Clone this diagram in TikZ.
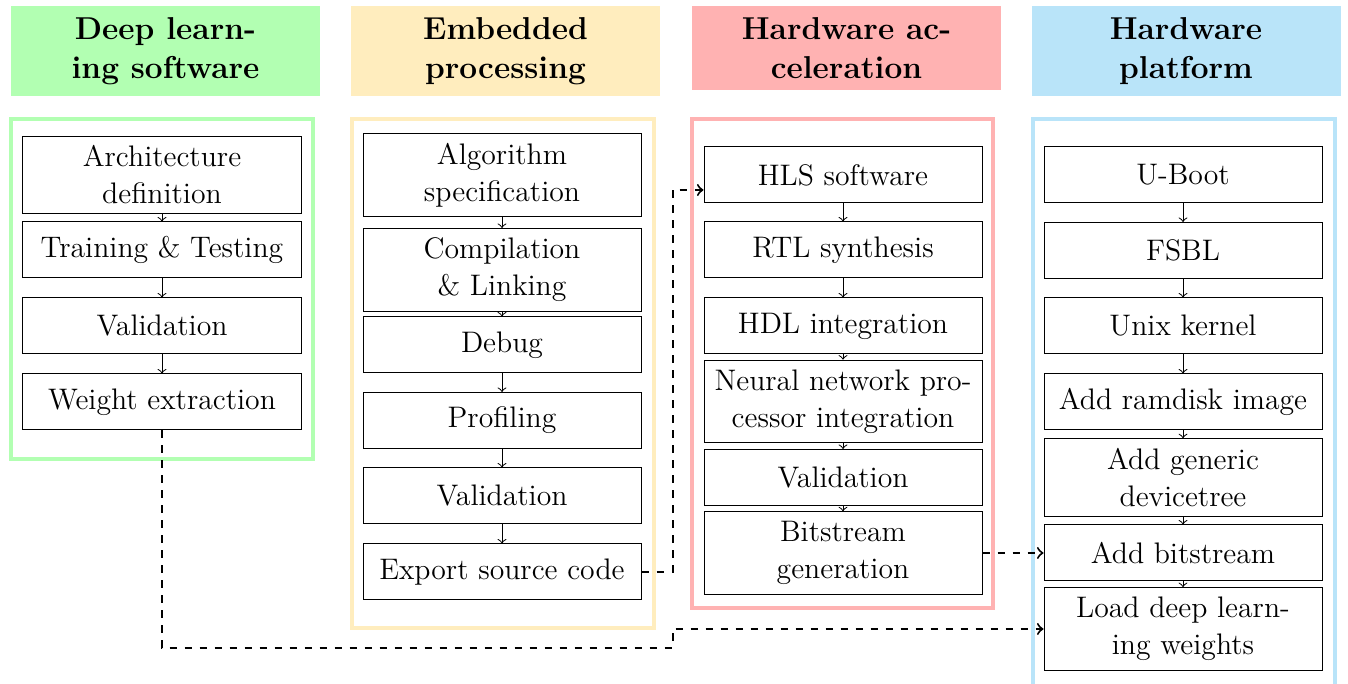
\documentclass[tikz,border=0pt]{standalone}
\usetikzlibrary{calc}

\definecolor{dlgreen}{rgb}{0.70,1.00,0.70}
\definecolor{emyellow}{RGB}{255,237,190}
\definecolor{hwred}{rgb}{1.00,0.70,0.70}
\definecolor{hwblue}{RGB}{185,228,249}

\newcommand\boxfont{\fontsize{11.88}{14.8}\selectfont}
\newcommand\headfont{\fontsize{12.66}{15.6}\selectfont\bfseries}

\tikzset{
  stagebox/.style={draw, line width=0.4pt, minimum width=111.2pt, minimum height=22.4pt,
    inner xsep=2pt, inner ysep=3.8pt, align=center, font=\boxfont},
  headbox/.style={anchor=north, minimum width=123.6pt, inner xsep=2pt, inner ysep=4.4pt,
    align=center, font=\headfont},
  frame/.style={line width=1.6pt},
  flow/.style={->, line width=0.4pt},
  link/.style={->, dashed, thick},
}

\begin{document}
\begin{tikzpicture}[x=0.4pt, y=-0.4pt]
\useasboundingbox (0,0) rectangle (1348,684);

% column headers
\node[headbox, fill=dlgreen]  (h1) at (165.5,6) {Deep learn-\\ing software};
\node[headbox, fill=emyellow] (h2) at (505.5,6) {Embedded\\processing};
\node[headbox, fill=hwred]    (h3) at (846.5,6) {Hardware ac-\\celeration};
\node[headbox, fill=hwblue]   (h4) at (1186,6)  {Hardware\\platform};

% column frames
\begin{scope}
  \clip (0,0) rectangle (1348,684);
  \draw[frame, dlgreen]  (11,119)   rectangle (313,459);
  \draw[frame, emyellow] (351.5,119) rectangle (653.5,628);
  \draw[frame, hwred]    (692,119)  rectangle (993,608.5);
  \draw[frame, hwblue]   (1032.5,119) rectangle (1334.5,700);
\end{scope}

% deep learning software
\node[stagebox] (a1) at (162,175) {Architecture\\definition};
\node[stagebox] (a2) at (162,250) {Training \& Testing};
\node[stagebox] (a3) at (162,326) {Validation};
\node[stagebox] (a4) at (162,402) {Weight extraction};

% embedded processing
\node[stagebox] (b1) at (502,175) {Algorithm\\specification};
\node[stagebox] (b2) at (502,270) {Compilation\\\& Linking};
\node[stagebox] (b3) at (502,345) {Debug};
\node[stagebox] (b4) at (502,420.5) {Profiling};
\node[stagebox] (b5) at (502,496) {Validation};
\node[stagebox] (b6) at (502,572) {Export source code};

% hardware acceleration
\node[stagebox] (c1) at (843,175) {HLS software};
\node[stagebox] (c2) at (843,250) {RTL synthesis};
\node[stagebox] (c3) at (843,326) {HDL integration};
\node[stagebox] (c4) at (843,401.5) {Neural network pro-\\cessor integration};
\node[stagebox] (c5) at (843,477.5) {Validation};
\node[stagebox] (c6) at (843,553) {Bitstream\\generation};

% hardware platform
\node[stagebox] (d1) at (1183,175) {U-Boot};
\node[stagebox] (d2) at (1183,250.5) {FSBL};
\node[stagebox] (d3) at (1183,326) {Unix kernel};
\node[stagebox] (d4) at (1183,402) {Add ramdisk image};
\node[stagebox] (d5) at (1183,477.5) {Add generic\\devicetree};
\node[stagebox] (d6) at (1183,553) {Add bitstream};
\node[stagebox] (d7) at (1183,629) {Load deep learn-\\ing weights};

% sequential steps
\foreach \u/\v in {a1/a2,a2/a3,a3/a4,
                   b1/b2,b2/b3,b3/b4,b4/b5,b5/b6,
                   c1/c2,c2/c3,c3/c4,c4/c5,c5/c6,
                   d1/d2,d2/d3,d3/d4,d4/d5,d5/d6,d6/d7}
  \draw[flow] (\u.south) -- (\v.north);

% hand-over between domains
\coordinate (hlsin) at ($(c1.west)+(0,15)$);
\coordinate (lowbend) at (672.5,648);
\draw[link] (b6.east) -| ($(hlsin)+(-31,0)$) -- (hlsin);
\draw[link] (a4.south) |- (lowbend) |- (d7.west);
\draw[link] (c6.east) -- (d6.west);
\end{tikzpicture}
\end{document}
